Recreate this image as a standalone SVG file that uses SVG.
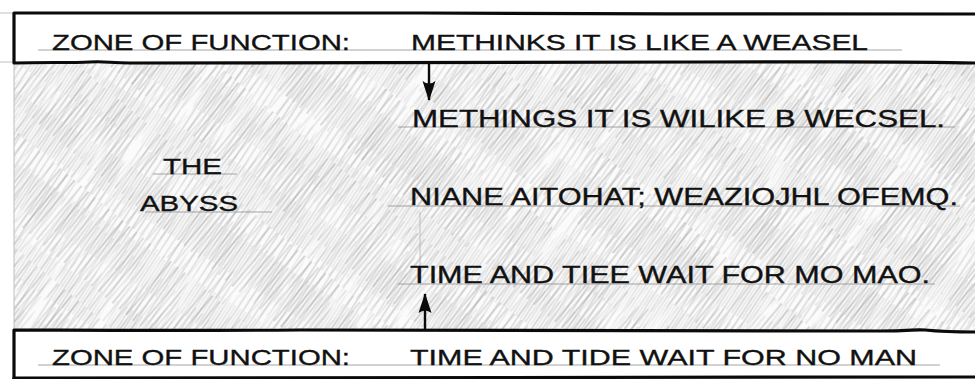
<svg xmlns="http://www.w3.org/2000/svg" width="975" height="379" viewBox="0 0 975 379">
<style>
.t{font-family:"Liberation Sans","DejaVu Sans",sans-serif;font-size:22px;fill:#111;stroke:#111;stroke-width:0.35;}
.big{font-size:23px;}
.box{fill:none;stroke:#0a0a0a;stroke-width:3.2;stroke-linejoin:round;stroke-linecap:round;}
.guide{stroke:#9a9a9a;stroke-width:0.9;fill:none;}
.faint{stroke:#b0b0b0;stroke-width:0.8;fill:none;}
.arr{stroke:#0a0a0a;stroke-width:2.4;fill:none;}
</style>
<defs>
<pattern id="h1" width="6" height="60" patternUnits="userSpaceOnUse" patternTransform="rotate(33)">
<line x1="1" y1="0" x2="1" y2="60" stroke="#9a9a9a" stroke-width="0.6"/>
<line x1="4" y1="8" x2="4" y2="44" stroke="#b4b4b4" stroke-width="0.5"/>
</pattern>
<pattern id="h2" width="9" height="90" patternUnits="userSpaceOnUse" patternTransform="rotate(40)">
<line x1="2" y1="0" x2="2" y2="70" stroke="#8a8a8a" stroke-width="0.7"/>
<line x1="6" y1="20" x2="6" y2="90" stroke="#a5a5a5" stroke-width="0.5"/>
</pattern>
<filter id="nz" x="-0.2" y="-0.2" width="1.4" height="1.4">
<feTurbulence type="fractalNoise" baseFrequency="0.012 0.06" numOctaves="3" seed="7"/>
<feColorMatrix type="matrix" values="2.6 0 0 0 -0.75  2.6 0 0 0 -0.75  2.6 0 0 0 -0.75  0 0 0 0 1"/>
</filter>
<filter id="nz2" x="-0.2" y="-0.2" width="1.4" height="1.4">
<feTurbulence type="fractalNoise" baseFrequency="0.015 0.05" numOctaves="3" seed="19"/>
<feColorMatrix type="matrix" values="2.6 0 0 0 -0.9  2.6 0 0 0 -0.9  2.6 0 0 0 -0.9  0 0 0 0 1"/>
</filter>
<mask id="m1" maskUnits="userSpaceOnUse" x="0" y="0" width="975" height="379">
<g transform="rotate(-57 490 196)"><rect x="-300" y="-400" width="1600" height="1200" fill="#fff" filter="url(#nz)"/></g>
</mask>
<mask id="m2" maskUnits="userSpaceOnUse" x="0" y="0" width="975" height="379">
<g transform="rotate(-52 490 196)"><rect x="-300" y="-400" width="1600" height="1200" fill="#fff" filter="url(#nz2)"/></g>
</mask>
<clipPath id="abyssClip"><rect x="14" y="63" width="961" height="267"/></clipPath>
<marker id="ah" viewBox="0 0 20 14" refX="19" refY="7" markerWidth="20" markerHeight="14" markerUnits="userSpaceOnUse" orient="auto">
<path d="M0,0.5 Q5,7 0,13.5 L20,7 Z" fill="#0a0a0a"/>
</marker>
</defs>
<rect width="975" height="379" fill="#fff"/>

<g id="abyss-shading" clip-path="url(#abyssClip)">
<rect x="14" y="63" width="961" height="267" fill="#fbfbfb"/>
<rect x="14" y="63" width="961" height="267" fill="url(#h1)" mask="url(#m1)"/>
<rect x="14" y="63" width="961" height="267" fill="url(#h2)" mask="url(#m2)"/>
</g>

<g id="guides">
<line class="faint" x1="0" y1="13" x2="14" y2="13"/>
<line class="faint" x1="0" y1="62" x2="14" y2="62"/>
<line class="faint" x1="14" y1="62" x2="14" y2="330"/>
<line class="faint" x1="420" y1="212" x2="420" y2="272"/>
</g>

<g id="zone-top">
<path class="box" d="M975,14 C800,13 600,15 420,13 C250,12 100,14 14,13 L14,63 C40,62 70,63 90,62 C105,61 110,63 130,63 C300,63 500,61 700,62 C830,62 900,61 975,63"/>
<line class="guide" x1="38" y1="50" x2="902" y2="50"/>
<text class="t" x="52" y="50" textLength="298" lengthAdjust="spacingAndGlyphs">ZONE OF FUNCTION:</text>
<text class="t" x="411" y="50" textLength="457" lengthAdjust="spacingAndGlyphs">METHINKS IT IS LIKE A WEASEL</text>
</g>

<g id="abyss-label">
<line class="guide" x1="153" y1="174" x2="237" y2="174"/>
<line class="guide" x1="145" y1="212" x2="272" y2="212"/>
<text class="t" x="163" y="174" textLength="59" lengthAdjust="spacingAndGlyphs">THE</text>
<text class="t" x="140" y="211" textLength="98" lengthAdjust="spacingAndGlyphs">ABYSS</text>
</g>

<g id="mutation-1">
<line class="guide" x1="398" y1="127" x2="955" y2="127"/>
<text class="t big" x="412" y="127" textLength="533" lengthAdjust="spacingAndGlyphs">METHINGS IT IS WILIKE B WECSEL.</text>
</g>

<g id="mutation-2">
<line class="guide" x1="388" y1="206" x2="960" y2="206"/>
<text class="t big" x="410" y="205" textLength="548" lengthAdjust="spacingAndGlyphs">NIANE AITOHAT; WEAZIOJHL OFEMQ.</text>
</g>

<g id="mutation-3">
<line class="guide" x1="398" y1="284" x2="935" y2="284"/>
<text class="t big" x="410" y="283" textLength="520" lengthAdjust="spacingAndGlyphs">TIME AND TIEE WAIT FOR MO MAO.</text>
</g>

<g id="zone-bottom">
<path class="box" d="M975,332 C955,332 935,331 925,330 C915,329 912,331 880,331 C700,331 500,329 300,330 C150,331 60,330 14,330 L14,379"/>
<path class="box" d="M14,378 C200,377 500,378 975,377"/>
<line class="guide" x1="38" y1="365" x2="940" y2="365"/>
<text class="t" x="52" y="365" textLength="298" lengthAdjust="spacingAndGlyphs">ZONE OF FUNCTION:</text>
<text class="t" x="410" y="365" textLength="507" lengthAdjust="spacingAndGlyphs">TIME AND TIDE WAIT FOR NO MAN</text>
</g>

<g id="connectors">
<path class="arr" d="M429,64 L429,100" marker-end="url(#ah)"/>
<path class="arr" d="M425,330 L425,294" marker-end="url(#ah)"/>
</g>
</svg>
